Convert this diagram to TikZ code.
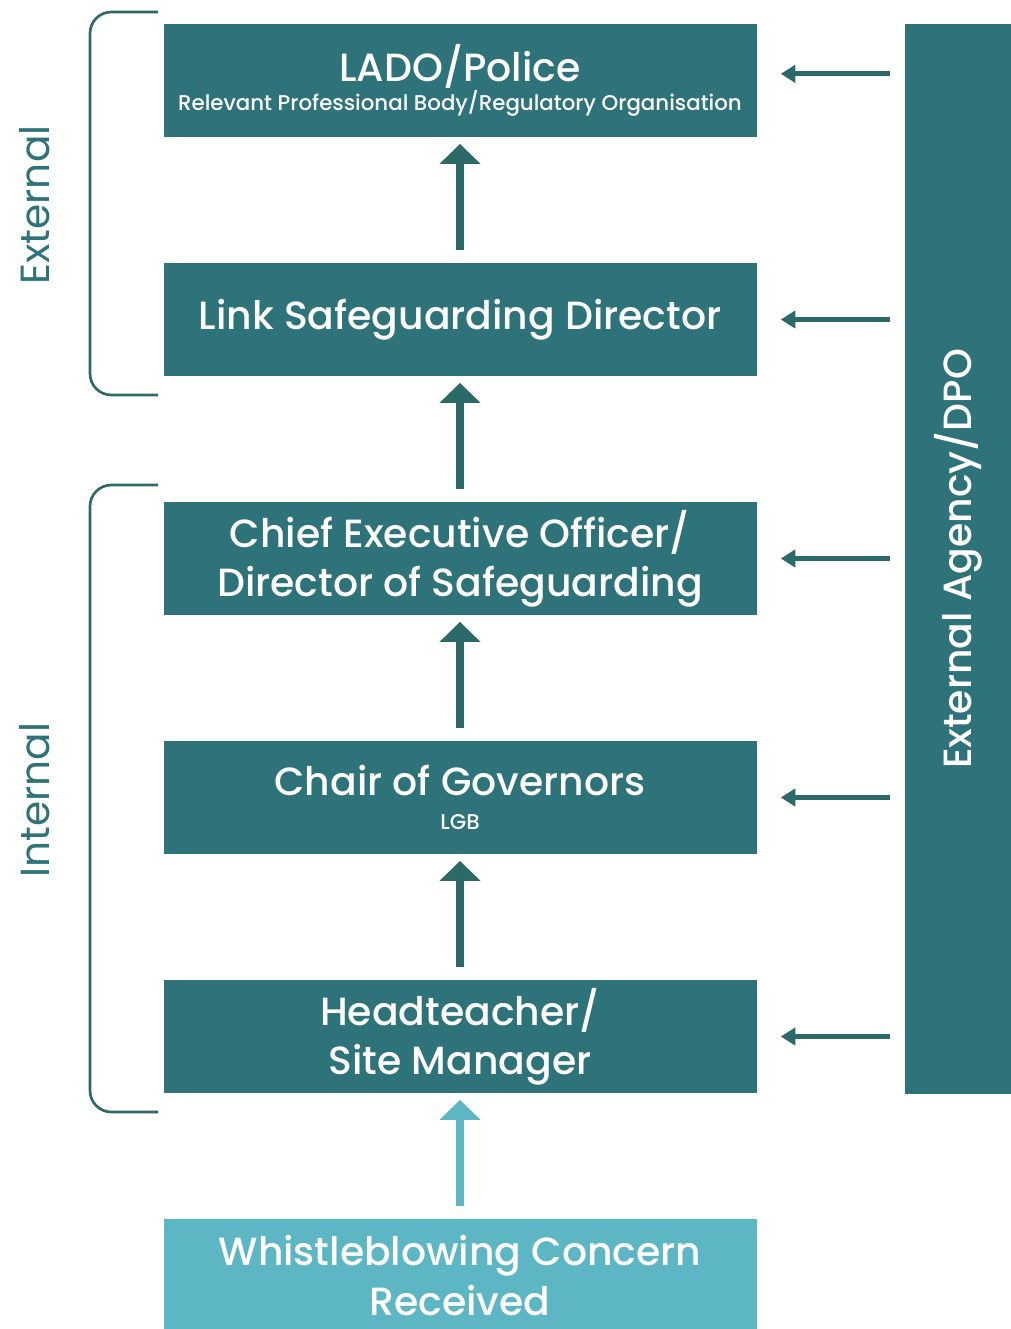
\documentclass[tikz,border=0pt]{standalone}
\usepackage{fontspec}
\setmainfont{Poppins}
\newfontfamily\semibold{Poppins Medium}
\usepackage{xcolor}
\usepackage{tikz}
\usetikzlibrary{shapes.geometric, arrows, arrows.meta, positioning}
\definecolor{boxteal}{HTML}{2E737A}
\definecolor{lightteal}{HTML}{5DB6C3}
\definecolor{linkgreen}{HTML}{2B6A69}
\newcommand{\titlefont}{\semibold\fontsize{29.5pt}{37pt}\selectfont}
\newcommand{\subfont}{\semibold\fontsize{16pt}{18pt}\selectfont}
\tikzstyle{stage} = [rectangle, minimum width=444.75pt, minimum height=84.75pt, inner sep=0pt, fill=boxteal, text=white, align=center, font=\titlefont]
\tikzstyle{arrow} = [line width=6pt, draw=linkgreen, -{Triangle[width=30pt,length=15pt]}, shorten >=5pt, shorten <=9.75pt]
\tikzstyle{sidearrow} = [line width=3.75pt, draw=linkgreen, -{Triangle[width=13pt,length=11pt]}, shorten >=18pt, shorten <=11.25pt]
\tikzstyle{bracket} = [line width=2pt, draw=linkgreen, rounded corners=16pt]
\tikzstyle{sidelabel} = [text=boxteal, font=\fontsize{30.5pt}{34pt}\selectfont, rotate=90]

\begin{document}
\begin{tikzpicture}[x=0.75pt, y=-0.75pt, node distance=179.25pt]
				\useasboundingbox (0,0) rectangle (1011,1329);
				
				\node (level1) [stage] at (460,80.5) {LADO/Police\\[-15pt]{\subfont Relevant Professional Body/Regulatory Organisation}};
				\node (level2) [stage, below of=level1] {Link Safeguarding Director};
				\node (level3) [stage, below of=level2] {Chief Executive Officer/\\Director of Safeguarding};
				\node (level4) [stage, below of=level3] {Chair of Governors\\[-12pt]{\subfont LGB}};
				\node (level5) [stage, below of=level4] {Headteacher/\\Site Manager};
				\node (concern) [stage, fill=lightteal, below of=level5] {Whistleblowing Concern\\Received};
				
				\node (agency) [stage, minimum width=79.5pt, minimum height=802.5pt] at (958,559) {\rotatebox{90}{External Agency/DPO}};
				\coordinate (ladoside) at ([yshift=5pt]level1.east);
				
				% brackets
				\draw [bracket] (158,12) -- (90,12) -- (90,395) -- (158,395);
				\draw [bracket] (158,485) -- (90,485) -- (90,1112) -- (158,1112);
				\node (external) [sidelabel] at (35,205) {External};
				\node (internal) [sidelabel] at (35,800) {Internal};
				
				\draw [arrow, draw=lightteal] (concern) -- (level5);
				\draw [arrow] (level5) -- (level4);
				\draw [arrow] (level4) -- (level3);
				\draw [arrow] (level3) -- (level2);
				\draw [arrow] (level2) -- (level1);
				
				\draw [sidearrow] (agency.west |- ladoside) -- (ladoside);
				\draw [sidearrow] (agency.west |- level2.east) -- (level2.east);
				\draw [sidearrow] (agency.west |- level3.east) -- (level3.east);
				\draw [sidearrow] (agency.west |- level4.east) -- (level4.east);
				\draw [sidearrow] (agency.west |- level5.east) -- (level5.east);
				
\end{tikzpicture}
\end{document}
